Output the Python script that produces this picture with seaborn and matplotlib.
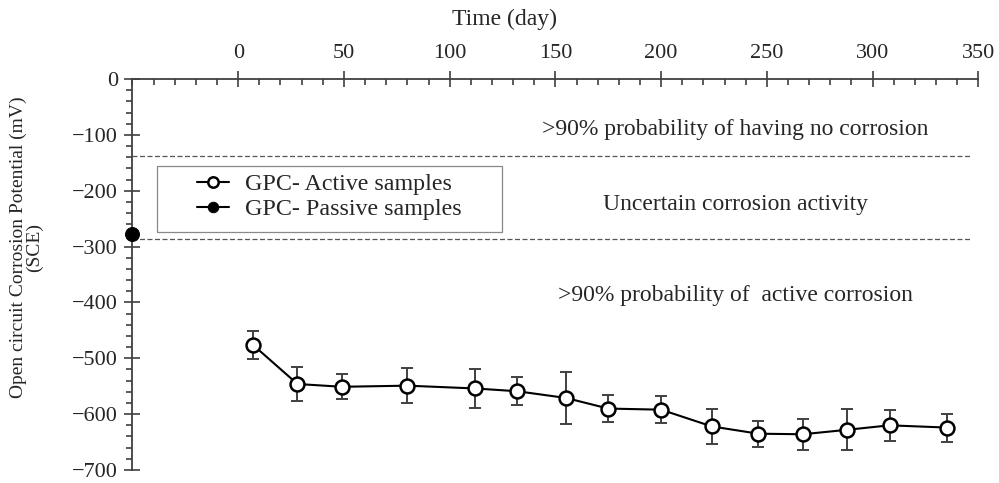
import numpy as np
import matplotlib
matplotlib.use("Agg")
import matplotlib.pyplot as plt
from matplotlib.ticker import MultipleLocator
from matplotlib.patches import Rectangle
import seaborn as sns
import pandas as pd

# active samples: day, mean OCP (mV vs SCE), error bar half-size
days = [7, 28, 49, 80, 112, 132, 155, 175, 200, 224, 246, 267, 288, 308, 335]
ocp = [-476, -546, -551, -549, -554, -559, -571, -590, -592, -622, -635, -636, -628, -620, -624]
err = [25, 31, 22, 31, 35, 25, 46, 24, 24, 31, 23, 28, 37, 28, 25]

# passive samples (single reading at the axis)
passive_day = [-50]
passive_ocp = [-277]

# ASTM C876 thresholds
limits = [-137, -286]
zones = [">90% probability of having no corrosion",
         "Uncertain corrosion activity",
         ">90% probability of  active corrosion"]
zone_y = [-90, -224, -387]

df = pd.DataFrame({"day": days, "ocp": ocp, "err": err})

sns.set_theme(style="white")
plt.rcParams["font.family"] = ["Liberation Serif", "DejaVu Serif"]
plt.rcParams["axes.unicode_minus"] = True

fig = plt.figure(figsize=(9.99, 4.83), dpi=100)
ax = fig.add_axes([0.1326, 0.0269, 0.8467, 0.8095])

ax.hlines(limits, -50, 346, colors="#555555", linestyles=(0, (4, 2)), linewidth=0.9, zorder=1)

ax.errorbar(df["day"], df["ocp"], yerr=df["err"], fmt="none", ecolor="#404040",
            elinewidth=1.4, capsize=4, capthick=1.4, zorder=2)
sns.lineplot(data=df, x="day", y="ocp", ax=ax, color="black", linewidth=1.5,
             marker="o", markersize=10, markerfacecolor="white", markeredgecolor="black",
             markeredgewidth=1.8, label="GPC- Active samples", zorder=3)
sns.lineplot(x=passive_day, y=passive_ocp, ax=ax, color="black", linewidth=1.5,
             marker="o", markersize=10, markerfacecolor="black", markeredgecolor="black",
             label="GPC- Passive samples", zorder=4, clip_on=False)

for txt, y in zip(zones, zone_y):
    ax.text(235, y, txt, ha="center", va="center", fontsize=17)

ax.set_xlim(-50, 350)
ax.set_ylim(-700, 0)
ax.xaxis.tick_top()
ax.xaxis.set_label_position("top")
ax.xaxis.set_major_locator(MultipleLocator(50))
ax.xaxis.set_minor_locator(MultipleLocator(10))
ax.yaxis.set_major_locator(MultipleLocator(100))
ax.yaxis.set_minor_locator(MultipleLocator(20))
ax.set_xticks(np.arange(0, 351, 50))

for side in ["right", "bottom"]:
    ax.spines[side].set_visible(False)
for side in ["top", "left"]:
    ax.spines[side].set_color("#404040")
    ax.spines[side].set_linewidth(1.3)

ax.tick_params(axis="both", which="major", direction="inout", length=11, width=1.2,
               color="#404040", labelsize=16)
ax.tick_params(axis="x", which="minor", direction="in", length=4, width=1.2, color="#404040")
ax.tick_params(axis="y", which="minor", direction="out", length=4, width=1.2, color="#404040")
ax.tick_params(axis="x", which="major", pad=6, top=True, bottom=False)
ax.tick_params(axis="x", which="minor", top=True, bottom=False)
ax.tick_params(axis="y", which="major", pad=5, left=True)
ax.tick_params(axis="y", which="minor", left=True)

ax.set_xlabel("Time (day)", fontsize=17)
ax.xaxis.set_label_coords(0.44, 1.152)
ax.xaxis.label.set_va("center")
ax.set_ylabel("Open circuit Corrosion Potential (mV)\n(SCE)", fontsize=14, linespacing=0.9)
ax.yaxis.set_label_coords(-0.106, 0.57)

# legend box drawn separately (wide Excel-style frame)
ax.add_patch(Rectangle((0.0286, 0.6095), 0.4086, 0.168, transform=ax.transAxes,
                       facecolor="white", edgecolor="#888888", linewidth=0.9, zorder=4.5))
leg = ax.legend(loc="upper left", bbox_to_anchor=(0.0759, 0.758), borderaxespad=0,
                fontsize=17.3, frameon=False, handlelength=1.36, handletextpad=0.65,
                labelspacing=0.12, borderpad=0, markerscale=0.75)
leg.set_zorder(6)

fig.savefig("out.png", dpi=100)
